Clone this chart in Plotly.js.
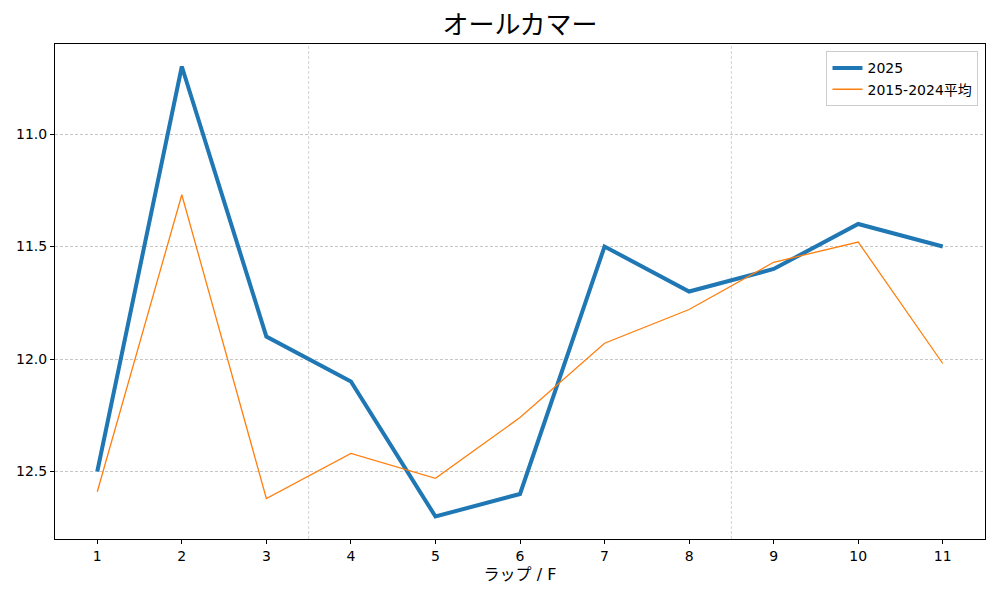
<!DOCTYPE html>
<html><head><meta charset="utf-8">
<script src="https://cdn.plot.ly/plotly-3.0.1.min.js"></script>
<style>body{margin:0;background:#fff}#c{width:1000px;height:600px}</style>
</head><body><div id="c"></div>
<script>
const laps = [1,2,3,4,5,6,7,8,9,10,11];
const y2025 = [12.5,10.7,11.9,12.1,12.7,12.6,11.5,11.7,11.6,11.4,11.5];
const yAvg = [12.59,11.27,12.62,12.42,12.53,12.26,11.93,11.78,11.57,11.48,12.02];
const dividers = [3.5,8.5];
const yTicks = [11.0,11.5,12.0,12.5];
const yTickText = ['11.0','11.5','12.0','12.5'];

const font = "'DejaVu Sans', 'Noto Sans CJK JP', sans-serif";
const traces = [
  {x: laps, y: y2025, type:'scatter', mode:'lines', name:'2025', line:{color:'#1f77b4', width:4}},
  {x: laps, y: yAvg, type:'scatter', mode:'lines', name:'2015-2024平均', line:{color:'#ff7f0e', width:1.3}}
];
const shapes = dividers.map(d => ({type:'line', xref:'x', yref:'paper', x0:d, x1:d, y0:0, y1:1,
  line:{color:'#c8c8c8', width:0.8, dash:'3px,2px'}, layer:'below'}));
const layout = {
  width:1000, height:600,
  margin:{l:55, r:15, t:44, b:61},
  paper_bgcolor:'#fff', plot_bgcolor:'#fff',
  font:{family:font, size:14, color:'#000'},
  title:{text:'オールカマー', x:0.52, xanchor:'center', y:0.958, yanchor:'middle', font:{family:font, size:26, color:'#000'}},
  showlegend:true,
  legend:{x:0.993, y:0.985, xanchor:'right', yanchor:'top', bgcolor:'rgba(255,255,255,0.8)', bordercolor:'#cccccc', borderwidth:1, font:{size:14}, tracegroupgap:0},
  xaxis:{range:[0.5,11.5], tickvals:laps, ticktext:laps.map(String), showgrid:false, zeroline:false,
    showline:true, linecolor:'#000', linewidth:1, mirror:true, ticks:'outside', ticklen:4, tickcolor:'#000',
    title:{text:'ラップ / F', font:{size:16}, standoff:6}},
  yaxis:{range:[12.8,10.6], tickvals:yTicks, ticktext:yTickText, showgrid:true, gridcolor:'#b8b8b8', griddash:'3px,2px', gridwidth:0.8,
    zeroline:false, showline:true, linecolor:'#000', linewidth:1, mirror:true, ticks:'outside', ticklen:4, tickcolor:'#000'},
  shapes: shapes
};
Plotly.newPlot('c', traces, layout, {displayModeBar:false, staticPlot:true});
</script></body></html>
